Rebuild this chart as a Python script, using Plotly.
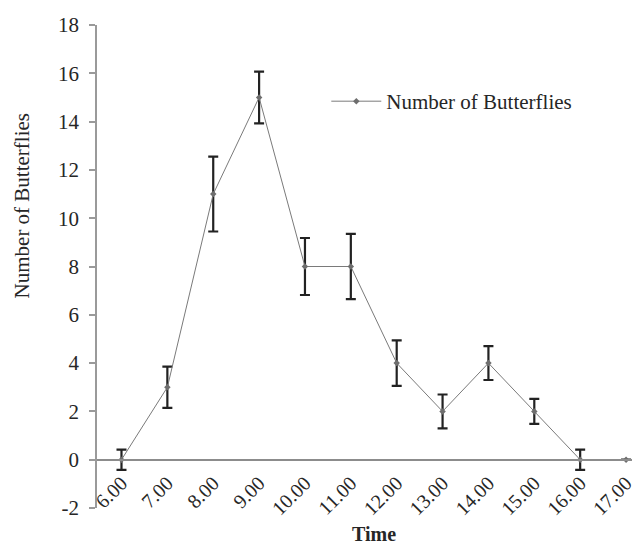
import plotly.graph_objects as go

times = [6, 7, 8, 9, 10, 11, 12, 13, 14, 15, 16, 17]
time_labels = ["6.00", "7.00", "8.00", "9.00", "10.00", "11.00", "12.00",
               "13.00", "14.00", "15.00", "16.00", "17.00"]
butterflies = [0, 3, 11, 15, 8, 8, 4, 2, 4, 2, 0, 0]
errors = [0.42, 0.85, 1.55, 1.07, 1.18, 1.35, 0.94, 0.70, 0.70, 0.52, 0.42, 0]
y_ticks = [-2, 0, 2, 4, 6, 8, 10, 12, 14, 16, 18]
y_tick_labels = ["-2", "0", "2", "4", "6", "8", "10", "12", "14", "16", "18"]

FONT = "Liberation Serif, Times New Roman, serif"
TXT = "#262626"
OFF = 8  # page body margin
W, H = 641 - OFF, 548 - OFF
# page-pixel positions of the plot area
PL, PR, PT, PB = 97, 636, 22, 508
L, R, T, B = PL - OFF, (OFF + W) - PR, PT - OFF, (OFF + H) - PB
PW, PH = W - L - R, H - T - B

def px_to_paper_x(px):
    return (px - PL) / PW

def px_to_paper_y(py):
    return (PB - py) / PH

fig = go.Figure()
fig.add_trace(go.Scatter(
    x=times, y=butterflies, mode="lines+markers",
    name="Number of Butterflies",
    line=dict(color="#7a7a7a", width=1),
    marker=dict(symbol="diamond", size=5, color="#6e6e6e"),
    error_y=dict(type="data", array=errors, visible=True,
                 color="#222222", thickness=2.2, width=5),
))

fig.update_layout(
    width=W, height=H,
    margin=dict(l=L, r=R, t=T, b=B, pad=0),
    paper_bgcolor="white", plot_bgcolor="white",
    font=dict(family=FONT, color=TXT, size=20),
    showlegend=True,
    legend=dict(x=px_to_paper_x(328), xanchor="left",
                y=px_to_paper_y(99), yanchor="middle",
                itemwidth=50,
                font=dict(size=21, family=FONT, color=TXT),
                bgcolor="rgba(0,0,0,0)"),
    xaxis=dict(range=[5.466, 17.13], tickmode="array", tickvals=times,
               ticktext=time_labels, tickangle=-45, anchor="free",
               position=0.1, showline=True, linecolor="#8c8c8c", linewidth=2,
               ticks="", showgrid=False, zeroline=False,
               ticklabelstandoff=3,
               tickfont=dict(size=20, family=FONT, color=TXT)),
    yaxis=dict(range=[-2, 18], tickmode="array", tickvals=y_ticks,
               ticktext=y_tick_labels,
               showline=True, linecolor="#9a9a9a", linewidth=1.5,
               ticks="outside", ticklen=6, tickcolor="#9a9a9a", tickwidth=1.5,
               ticklabelstandoff=6,
               showgrid=False, zeroline=False,
               tickfont=dict(size=21, family=FONT, color=TXT)),
    annotations=[
        dict(text="Number of Butterflies", textangle=-90, showarrow=False,
             xref="paper", yref="paper", x=px_to_paper_x(21),
             y=px_to_paper_y(204), xanchor="center", yanchor="middle",
             font=dict(size=21, family=FONT, color=TXT)),
        dict(text="<b>Time</b>", showarrow=False, xref="paper", yref="paper",
             x=px_to_paper_x(376), y=px_to_paper_y(534),
             xanchor="center", yanchor="middle",
             font=dict(size=20, family=FONT, color=TXT)),
    ],
)

fig.write_html("out.html")
